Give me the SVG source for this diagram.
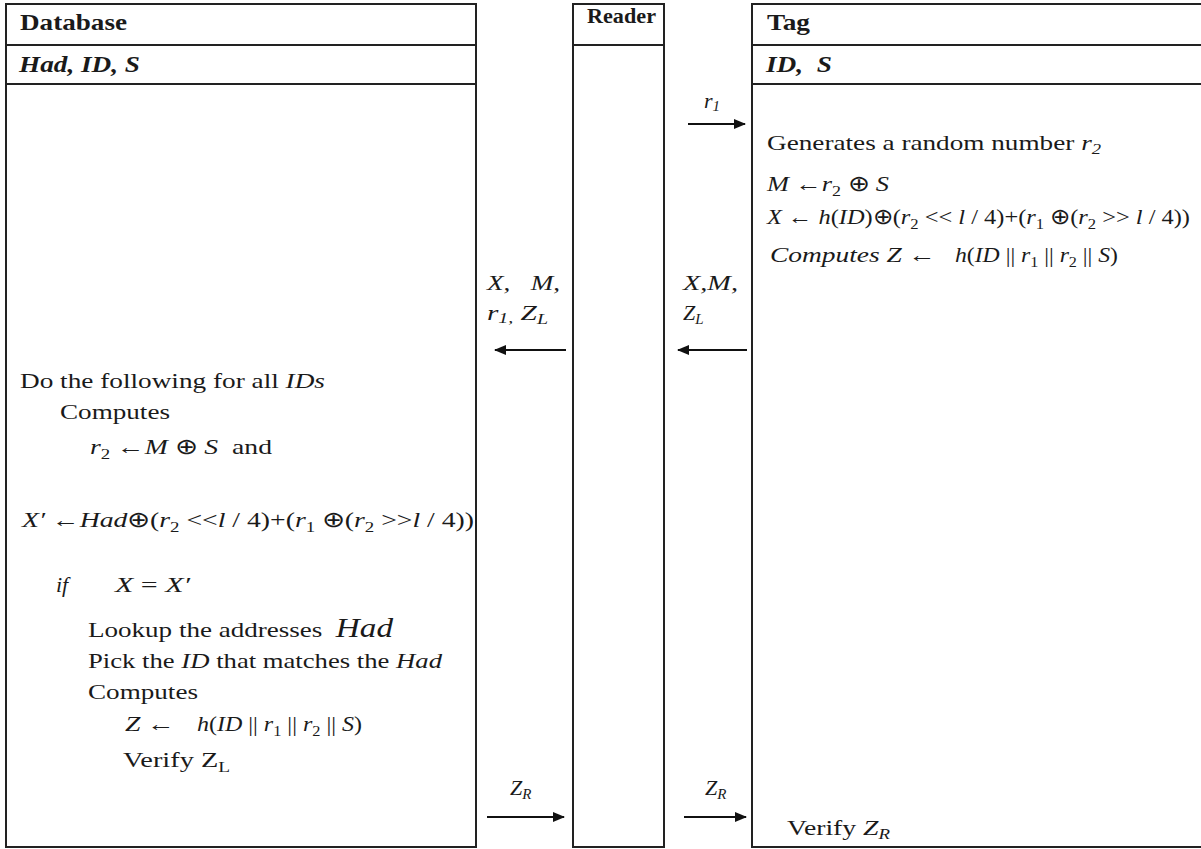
<svg xmlns="http://www.w3.org/2000/svg" width="1201" height="849" viewBox="0 0 1201 849">
<defs>
<marker id="ah" markerWidth="12" markerHeight="10" refX="11" refY="5" orient="auto" markerUnits="userSpaceOnUse">
<path d="M0,0 L12,5 L0,10 Z" fill="#111"/>
</marker>
<style>
.box{fill:#fff;stroke:#222;stroke-width:2}
.ln{stroke:#222;stroke-width:2}
.t{font-family:"Liberation Serif","Times New Roman",serif;font-size:22px;fill:#1a1a1a}
.h{font-weight:bold;font-size:24px}
.i{font-style:italic}
.s{font-size:15px}
.arr{stroke:#111;stroke-width:2;fill:none;marker-end:url(#ah)}
</style>
</defs>
<rect width="1201" height="849" fill="#fff"/>

<g id="database">
<rect class="box" x="6" y="4" width="470" height="843"/>
<line class="ln" x1="6" y1="45" x2="476" y2="45"/>
<line class="ln" x1="6" y1="84" x2="476" y2="84"/>
<text class="t h" x="20" y="30" textLength="107" lengthAdjust="spacingAndGlyphs">Database</text>
<text class="t h i" x="19" y="72" textLength="121" lengthAdjust="spacingAndGlyphs">Had, ID, S</text>
<text class="t" x="20" y="388" textLength="305" lengthAdjust="spacingAndGlyphs">Do the following for all <tspan class="i">IDs</tspan></text>
<text class="t" x="60" y="419" textLength="110" lengthAdjust="spacingAndGlyphs">Computes</text>
<text class="t" x="90" y="454" xml:space="preserve" textLength="182" lengthAdjust="spacingAndGlyphs"><tspan class="i">r</tspan><tspan class="s" dy="5">2</tspan><tspan dy="-5"> ←</tspan><tspan class="i">M</tspan> ⊕ <tspan class="i">S</tspan>  and</text>
<text class="t" x="22" y="527" textLength="452" lengthAdjust="spacingAndGlyphs"><tspan class="i">X′</tspan> ←<tspan class="i">Had</tspan>⊕(<tspan class="i">r</tspan><tspan class="s" dy="5">2</tspan><tspan dy="-5"> &lt;&lt;</tspan><tspan class="i">l</tspan> / 4)+(<tspan class="i">r</tspan><tspan class="s" dy="5">1</tspan><tspan dy="-5"> ⊕(</tspan><tspan class="i">r</tspan><tspan class="s" dy="5">2</tspan><tspan dy="-5"> &gt;&gt;</tspan><tspan class="i">l</tspan> / 4))</text>
<text class="t i" x="56" y="592">if</text>
<text class="t" x="115" y="592" textLength="75" lengthAdjust="spacingAndGlyphs"><tspan class="i">X</tspan> = <tspan class="i">X′</tspan></text>
<text class="t" x="88" y="637" xml:space="preserve" textLength="305" lengthAdjust="spacingAndGlyphs">Lookup the addresses  <tspan class="i" font-size="27">Had</tspan></text>
<text class="t" x="88" y="668" textLength="354" lengthAdjust="spacingAndGlyphs">Pick the <tspan class="i">ID</tspan> that matches the <tspan class="i">Had</tspan></text>
<text class="t" x="88" y="699" textLength="110" lengthAdjust="spacingAndGlyphs">Computes</text>
<text class="t" x="125" y="731" textLength="50" lengthAdjust="spacingAndGlyphs"><tspan class="i">Z</tspan> ←</text>
<text class="t" x="197" y="731" textLength="165" lengthAdjust="spacingAndGlyphs"><tspan class="i">h</tspan>(<tspan class="i">ID</tspan> || <tspan class="i">r</tspan><tspan class="s" dy="5">1</tspan><tspan dy="-5"> || </tspan><tspan class="i">r</tspan><tspan class="s" dy="5">2</tspan><tspan dy="-5"> || </tspan><tspan class="i">S</tspan>)</text>
<text class="t" x="123" y="767" textLength="107" lengthAdjust="spacingAndGlyphs">Verify Z<tspan class="s" dy="5">L</tspan></text>
</g>

<g id="reader">
<rect class="box" x="573" y="4" width="91" height="843"/>
<line class="ln" x1="573" y1="45" x2="664" y2="45"/>
<text class="t" x="587" y="23" font-weight="bold" font-size="18" textLength="69" lengthAdjust="spacingAndGlyphs">Reader</text>
</g>

<g id="tag">
<rect class="box" x="752" y="4" width="460" height="843"/>
<line class="ln" x1="752" y1="45" x2="1201" y2="45"/>
<line class="ln" x1="752" y1="84" x2="1201" y2="84"/>
<text class="t h" x="767" y="30" textLength="43" lengthAdjust="spacingAndGlyphs">Tag</text>
<text class="t h i" x="766" y="72" xml:space="preserve" textLength="66" lengthAdjust="spacingAndGlyphs">ID,  S</text>
<text class="t" x="767" y="150" textLength="334" lengthAdjust="spacingAndGlyphs">Generates a random number <tspan class="i">r</tspan><tspan class="s i" dy="4">2</tspan></text>
<text class="t" x="767" y="191" textLength="122" lengthAdjust="spacingAndGlyphs"><tspan class="i">M</tspan> ←<tspan class="i">r</tspan><tspan class="s" dy="5">2</tspan><tspan dy="-5"> ⊕ </tspan><tspan class="i">S</tspan></text>
<text class="t" x="767" y="224" textLength="423" lengthAdjust="spacingAndGlyphs"><tspan class="i">X</tspan> ← <tspan class="i">h</tspan>(<tspan class="i">ID</tspan>)⊕(<tspan class="i">r</tspan><tspan class="s" dy="5">2</tspan><tspan dy="-5"> &lt;&lt; </tspan><tspan class="i">l</tspan> / 4)+(<tspan class="i">r</tspan><tspan class="s" dy="5">1</tspan><tspan dy="-5"> ⊕(</tspan><tspan class="i">r</tspan><tspan class="s" dy="5">2</tspan><tspan dy="-5"> &gt;&gt; </tspan><tspan class="i">l</tspan> / 4))</text>
<text class="t" x="770" y="262" textLength="166" lengthAdjust="spacingAndGlyphs"><tspan class="i">Computes Z</tspan> ←</text>
<text class="t" x="955" y="262" textLength="163" lengthAdjust="spacingAndGlyphs"><tspan class="i">h</tspan>(<tspan class="i">ID</tspan> || <tspan class="i">r</tspan><tspan class="s" dy="5">1</tspan><tspan dy="-5"> || </tspan><tspan class="i">r</tspan><tspan class="s" dy="5">2</tspan><tspan dy="-5"> || </tspan><tspan class="i">S</tspan>)</text>
<text class="t" x="787" y="835" textLength="103" lengthAdjust="spacingAndGlyphs">Verify <tspan class="i">Z</tspan><tspan class="s i" dy="4">R</tspan></text>
</g>

<g id="connectors">
<line class="arr" x1="688" y1="124" x2="745" y2="124"/>
<text class="t i" x="704" y="108">r<tspan class="s" dy="3">1</tspan></text>

<line class="arr" x1="566" y1="350" x2="495" y2="350"/>
<text class="t i" x="487" y="290" xml:space="preserve" textLength="73" lengthAdjust="spacingAndGlyphs">X,   M,</text>
<text class="t i" x="487" y="320" textLength="61" lengthAdjust="spacingAndGlyphs">r<tspan class="s" dy="3">1,</tspan><tspan dy="-3"> Z</tspan><tspan class="s" dy="4">L</tspan></text>

<line class="arr" x1="747" y1="350" x2="678" y2="350"/>
<text class="t i" x="683" y="290" textLength="55" lengthAdjust="spacingAndGlyphs">X,M,</text>
<text class="t i" x="683" y="320">Z<tspan class="s" dy="4">L</tspan></text>

<line class="arr" x1="487" y1="817" x2="564" y2="817"/>
<text class="t i" x="510" y="795">Z<tspan class="s" dy="4">R</tspan></text>

<line class="arr" x1="684" y1="817" x2="746" y2="817"/>
<text class="t i" x="705" y="795">Z<tspan class="s" dy="4">R</tspan></text>
</g>
</svg>
